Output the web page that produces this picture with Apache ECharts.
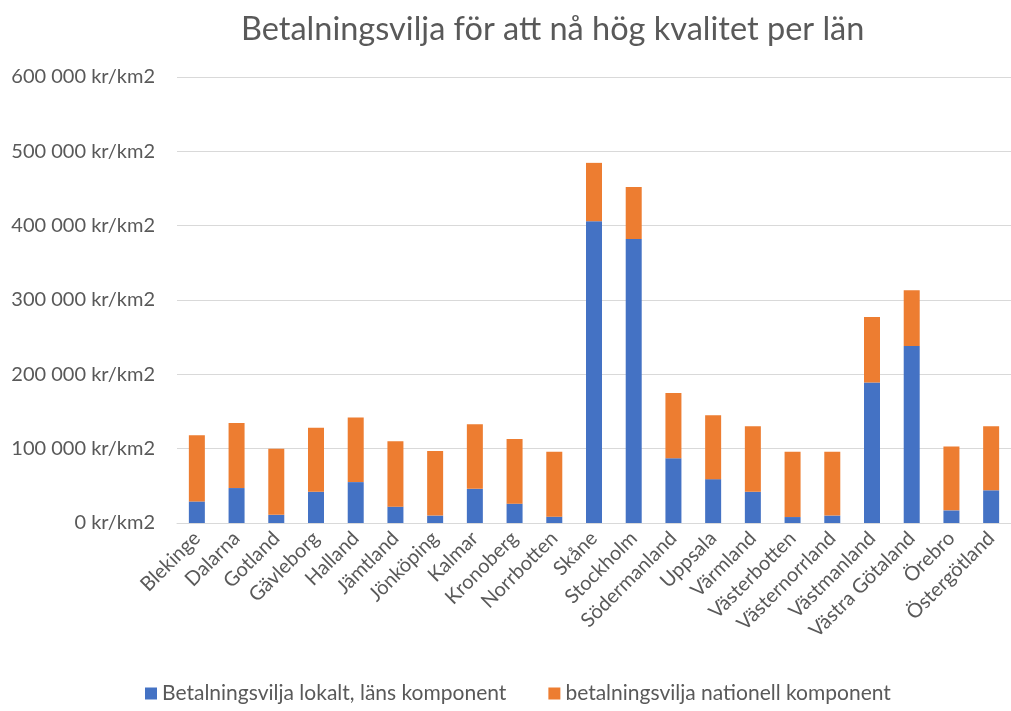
<!DOCTYPE html>
<html><head><meta charset="utf-8">
<script src="https://cdn.jsdelivr.net/npm/echarts@6/dist/echarts.min.js"></script>
<style>html,body{margin:0;padding:0;background:#fff}#c{width:1011px;height:711px}</style>
</head><body><div id="c"></div>
<script>
const categories = ["Blekinge","Dalarna","Gotland","Gävleborg","Halland","Jämtland","Jönköping","Kalmar","Kronoberg","Norrbotten","Skåne","Stockholm","Södermanland","Uppsala","Värmland","Västerbotten","Västernorrland","Västmanland","Västra Götaland","Örebro","Östergötland"];
const lokal = [29000,47000,11000,42000,55000,22000,10000,46000,26000,8500,406000,382000,87000,59000,42000,8000,10000,189000,238000,17000,44000];
const nationell = [89000,87500,89000,86000,87000,88000,87000,87000,87000,87500,78500,70000,88000,86000,88000,88000,86000,88000,75000,86000,86000];
const yTicks = [0,100000,200000,300000,400000,500000,600000];
const seriesNames = ["Betalningsvilja lokalt, läns komponent","betalningsvilja nationell komponent"];

const font = "Lato, 'Open Sans', sans-serif";
const chart = echarts.init(document.getElementById('c'));
chart.setOption({
  animation:false,
  title:{text:"Betalningsvilja för att nå hög kvalitet per län",left:236,top:8,
    textStyle:{fontFamily:font,fontSize:32.5,fontWeight:'normal',color:'#595959'}},
  grid:{left:177,top:77,width:844,height:446,containLabel:false},
  legend:{bottom:2,left:140,itemWidth:12,itemHeight:12,itemGap:42,icon:'rect',
    textStyle:{fontFamily:font,fontSize:21,color:'#595959'},data:seriesNames},
  xAxis:{type:'category',data:categories,
    axisLine:{lineStyle:{color:'#d9d9d9',width:1}},axisTick:{show:false},
    axisLabel:{rotate:45,interval:0,margin:12,fontFamily:font,fontSize:20,color:'#595959'}},
  yAxis:{type:'value',min:0,max:600000,interval:100000,
    axisLine:{show:false},axisTick:{show:false},
    splitLine:{lineStyle:{color:'#d9d9d9',width:1}},
    axisLabel:{margin:22,fontFamily:font,fontSize:20,color:'#595959',
      formatter:v=>String(v).replace(/\B(?=(\d{3})+(?!\d))/g,' ')+' kr/km2'}},
  series:[
    {name:seriesNames[0],type:'bar',stack:'a',data:lokal,barWidth:16,itemStyle:{color:'#4472c4'}},
    {name:seriesNames[1],type:'bar',stack:'a',data:nationell,barWidth:16,itemStyle:{color:'#ed7d31'}}
  ]
});
</script></body></html>
